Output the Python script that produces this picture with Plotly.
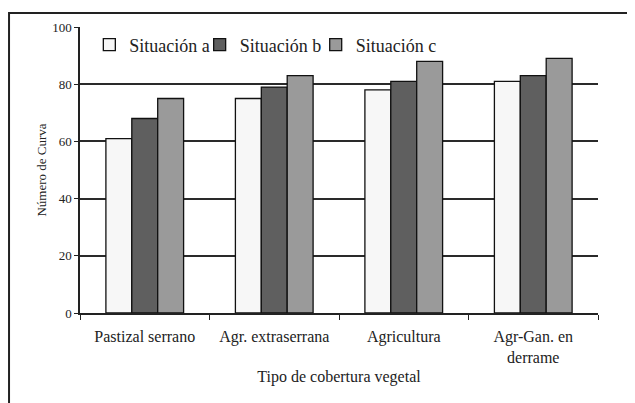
import plotly.graph_objects as go

categories = ["Pastizal serrano", "Agr. extraserrana", "Agricultura", "Agr-Gan. en<br>derrame"]
series_names = ["Situación a", "Situación b", "Situación c"]
sit_a = [61, 75, 78, 81]
sit_b = [68, 79, 81, 83]
sit_c = [75, 83, 88, 89]
y_ticks = [0, 20, 40, 60, 80, 100]

colors = ["#f7f7f7", "#5f5f5f", "#9a9a9a"]
legend_x = [0.018, 0.231, 0.455]
legend_ids = ["legend", "legend2", "legend3"]
FONT = "Liberation Serif"
INK = "#222"

fig = go.Figure()
for name, vals, col, lid in zip(series_names, [sit_a, sit_b, sit_c], colors, legend_ids):
    fig.add_trace(go.Bar(x=categories, y=vals, name=name, legend=lid,
                         marker=dict(color=col, line=dict(color="#111", width=1.3))))

legend_style = dict(orientation="h", y=0.937, xanchor="left", yanchor="middle",
                    font=dict(family=FONT, size=18, color=INK),
                    bgcolor="rgba(0,0,0,0)", itemwidth=30)

fig.update_layout(
    width=627, height=395,
    margin=dict(l=72, r=37, t=19, b=90),
    paper_bgcolor="white", plot_bgcolor="white",
    barmode="group", bargap=0.4, bargroupgap=0,
    font=dict(family=FONT, color=INK, size=12),
    showlegend=True,
    legend=dict(x=legend_x[0], **legend_style),
    legend2=dict(x=legend_x[1], **legend_style),
    legend3=dict(x=legend_x[2], **legend_style),
    xaxis=dict(showline=True, linecolor=INK, linewidth=1.5, ticks="outside",
               tickson="boundaries", ticklen=5, tickcolor=INK, automargin=False,
               ticklabelstandoff=8,
               tickfont=dict(family=FONT, size=16, color=INK),
               title=dict(text="Tipo de cobertura vegetal", font=dict(family=FONT, size=16, color=INK), standoff=6)),
    yaxis=dict(range=[0, 100], tickvals=y_ticks, showline=True, linecolor=INK, linewidth=1.5,
               ticks="outside", ticklen=4, tickcolor=INK, showgrid=True, gridcolor="#2a2a2a",
               gridwidth=1.5, zeroline=False, automargin=False,
               tickfont=dict(family=FONT, size=13, color=INK),
               title=dict(text="Número de Curva", font=dict(family=FONT, size=13, color=INK), standoff=3)),
    shapes=[dict(type="rect", xref="paper", yref="paper", x0=-0.137, y0=-0.6, x1=1.3, y1=1.049,
                 line=dict(color="#222", width=2), fillcolor="rgba(0,0,0,0)", layer="below")],
)

fig.write_html("out.html")
